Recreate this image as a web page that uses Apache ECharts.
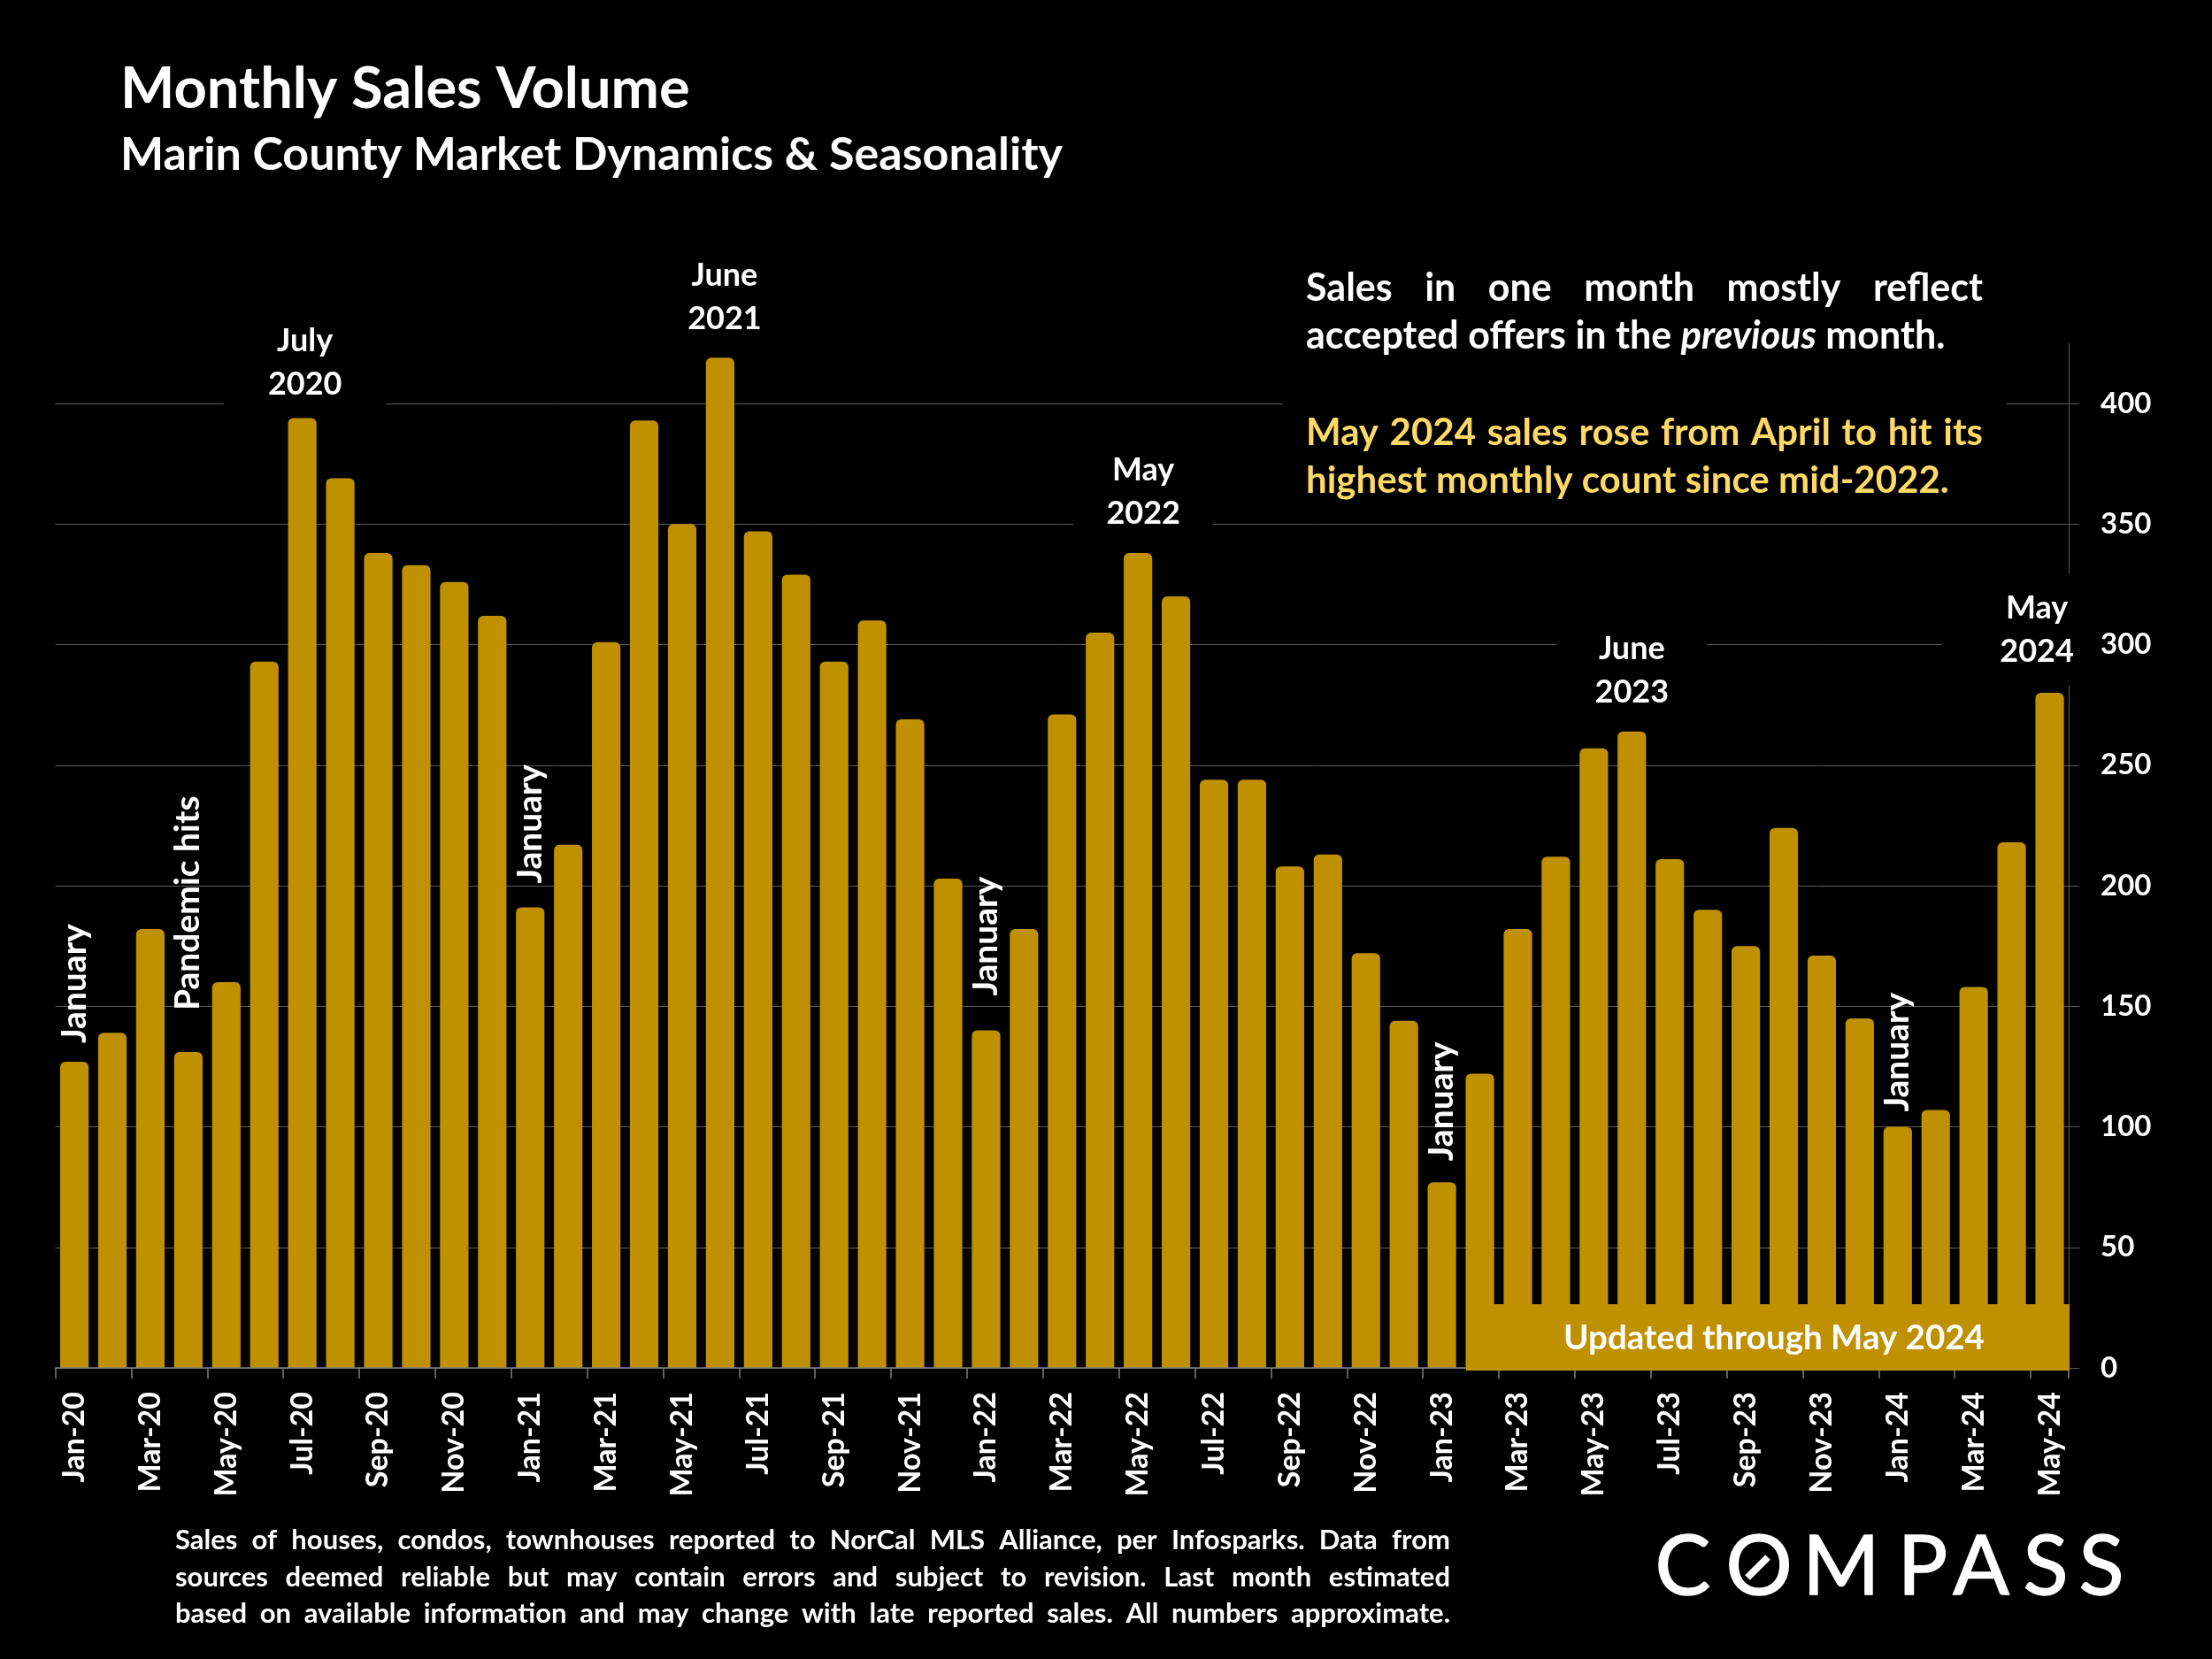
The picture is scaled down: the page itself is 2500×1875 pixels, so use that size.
<!DOCTYPE html>
<html>
<head>
    <meta charset="UTF-8">
    <title>Monthly Sales Volume</title>
    <script src="https://cdn.jsdelivr.net/npm/echarts@6/dist/echarts.min.js"></script>
    <style>
        html, body { margin: 0; background: #000; }
        #chart { width: 2500px; height: 1875px; }
    </style>
</head>
<body>
<div id="chart"></div>
<script>
    var months = ['Jan', 'Feb', 'Mar', 'Apr', 'May', 'Jun', 'Jul', 'Aug', 'Sep', 'Oct', 'Nov', 'Dec'];
    var categories = [];
    ['20', '21', '22', '23', '24'].forEach(function (yy) {
        months.forEach(function (m) { categories.push(m + '-' + yy); });
    });
    categories = categories.slice(0, 53);

    var sales = [
        127, 139, 182, 131, 160, 293, 394, 369, 338, 333, 326, 312,
        191, 217, 301, 393, 350, 419, 347, 329, 293, 310, 269, 203,
        140, 182, 271, 305, 338, 320, 244, 244, 208, 213, 172, 144,
        77, 122, 182, 212, 257, 264, 211, 190, 175, 224, 171, 145,
        100, 107, 158, 218, 280
    ];
    var yTicks = [0, 50, 100, 150, 200, 250, 300, 350, 400];

    // callouts above the bars
    var sideNotes = {'Jan-20': 'January', 'Apr-20': 'Pandemic hits', 'Jan-21': 'January',
        'Jan-22': 'January', 'Jan-23': 'January', 'Jan-24': 'January'};
    var peakNotes = {'Jul-20': 'July\n2020', 'Jun-21': 'June\n2021', 'May-22': 'May\n2022',
        'Jun-23': 'June\n2023', 'May-24': 'May\n2024'};

    var titleText = 'Monthly Sales Volume';
    var subtitleText = 'Marin County Market Dynamics & Seasonality';
    var updatedText = 'Updated through May 2024';
    var footnote = [
        'Sales of houses, condos, townhouses reported to NorCal MLS Alliance, per Infosparks. Data from',
        'sources deemed reliable but may contain errors and subject to revision. Last month estimated',
        'based on available information and may change with late reported sales. All numbers approximate.'
    ];

    var FONT = 'Lato, "Open Sans", sans-serif';
    var GOLD = '#BF9000';
    var measure = document.createElement('canvas').getContext('2d');

    function fontOf(size, italic) {
        return (italic ? 'italic ' : '') + 'bold ' + size + 'px ' + FONT;
    }

    // one text element per word, so a line can be justified like the original
    function lineWords(words, left, width, y, size, color) {
        var els = [];
        var total = 0;
        words.forEach(function (w) {
            measure.font = fontOf(size, w.italic);
            w.width = measure.measureText(w.text).width;
            total += w.width;
        });
        measure.font = fontOf(size);
        var gap = width ? (width - total) / (words.length - 1) : measure.measureText(' ').width;
        var x = left;
        words.forEach(function (w) {
            els.push({
                type: 'text', z: 20,
                style: {text: w.text, x: x, y: y, fill: color, font: fontOf(size, w.italic), textVerticalAlign: 'middle'}
            });
            x += w.width + gap;
        });
        return els;
    }

    function plain(str) {
        return str.split(' ').map(function (t) { return {text: t}; });
    }

    function sideLabel(text, distance) {
        return {
            show: true, formatter: text, position: 'top', rotate: 90, align: 'left', verticalAlign: 'middle',
            distance: distance, color: '#fff', fontFamily: FONT, fontWeight: 'bold', fontSize: 39
        };
    }

    function peakLabel(text, opt) {
        return {
            show: true, formatter: text, position: 'top', distance: opt.distance, offset: opt.offset,
            color: '#fff', fontFamily: FONT, fontWeight: 'bold', fontSize: 36, lineHeight: 49, align: 'center',
            backgroundColor: '#000', padding: opt.padding
        };
    }

    var sideDistance = {'Jan-20': 21, 'Apr-20': 47, 'Jan-21': 27, 'Jan-22': 39, 'Jan-23': 24, 'Jan-24': 17};
    var peakStyle = {
        'Jul-20': {distance: 14, offset: [3, 0], padding: [0, 50, 0, 50]},
        'Jun-21': {distance: 19, offset: [5, 0], padding: [0, 10, 0, 10]},
        'May-22': {distance: 20, offset: [6, 0], padding: [0, 37, 0, 37]},
        'Jun-23': {distance: 20, offset: [0, 0], padding: [0, 43, 0, 43]},
        'May-24': {distance: 9, offset: [-43, 0], padding: [15, 8, 13, 65]}
    };

    var barData = sales.map(function (v, i) {
        var c = categories[i];
        var item = {value: v};
        if (sideNotes[c]) item.label = sideLabel(sideNotes[c], sideDistance[c]);
        if (peakNotes[c]) item.label = peakLabel(peakNotes[c], peakStyle[c]);
        return item;
    });

    var graphics = [
        // black panel behind the commentary hides the 400 gridline
        {type: 'rect', z: 10, shape: {x: 1450, y: 300, width: 817, height: 280}, style: {fill: '#000'}},
        {type: 'rect', z: 10, shape: {x: 1657, y: 1474, width: 682, height: 75}, style: {fill: GOLD}},
        {type: 'text', z: 20, style: {text: updatedText, x: 2005, y: 1513, fill: '#fff', font: fontOf(38.5),
            textAlign: 'center', textVerticalAlign: 'middle'}}
    ];
    graphics = graphics.concat(
        lineWords(plain('Sales in one month mostly reflect'), 1476, 765, 326, 43, '#fff'),
        lineWords([{text: 'accepted'}, {text: 'offers'}, {text: 'in'}, {text: 'the'}, {text: 'previous', italic: true}, {text: 'month.'}], 1476, 0, 380, 43, '#fff'),
        lineWords(plain('May 2024 sales rose from April to hit its'), 1476, 765, 489, 42, '#FFD966'),
        lineWords(plain('highest monthly count since mid-2022.'), 1476, 0, 543, 42, '#FFD966')
    );
    footnote.forEach(function (line, i) {
        graphics = graphics.concat(lineWords(plain(line), 198, 1441, 1741 + i * 41.5, 31, '#fff'));
    });

    // wordmark, letter by letter
    [['C', 1902], ['O', 1988], ['M', 2081], ['P', 2173], ['A', 2239], ['S', 2312], ['S', 2375]].forEach(function (l) {
        graphics.push({type: 'text', z: 20, style: {text: l[0], x: l[1], y: 1772, fill: '#fff',
            stroke: '#fff', lineWidth: 1.5,
            font: '400 94px ' + FONT, textAlign: 'center', textVerticalAlign: 'middle'}});
    });
    graphics.push({type: 'line', z: 20, shape: {x1: 1975, y1: 1783, x2: 1998, y2: 1760},
        style: {stroke: '#fff', lineWidth: 8}});

    var chart = echarts.init(document.getElementById('chart'), null, {renderer: 'canvas'});
    chart.setOption({
        backgroundColor: '#000',
        animation: false,
        title: {
            text: titleText, subtext: subtitleText, left: 131, top: 64, itemGap: 15,
            textStyle: {color: '#fff', fontFamily: FONT, fontWeight: 'bold', fontSize: 65},
            subtextStyle: {color: '#fff', fontFamily: FONT, fontWeight: 'bold', fontSize: 52}
        },
        grid: {left: 62.6, right: 162, top: 388, bottom: 329},
        xAxis: {
            type: 'category', data: categories, z: 3,
            axisLine: {lineStyle: {color: '#7f7f7f', width: 1.5}},
            axisTick: {show: true, interval: 1, length: 12, lineStyle: {color: '#7f7f7f', width: 1.5}},
            axisLabel: {interval: 1, rotate: 90, margin: 27, color: '#fff', fontFamily: FONT, fontWeight: 'bold', fontSize: 34}
        },
        yAxis: {
            type: 'value', position: 'right', min: 0, max: 425,
            axisLine: {show: true, lineStyle: {color: '#595959', width: 1}},
            axisTick: {show: true, length: 12, customValues: yTicks, lineStyle: {color: '#595959', width: 1}},
            splitLine: {show: true, lineStyle: {color: '#595959', width: 1}},
            axisLabel: {margin: 36, align: 'left', customValues: yTicks, color: '#fff', fontFamily: FONT, fontWeight: 'bold', fontSize: 33}
        },
        series: [{
            type: 'bar', data: barData, barWidth: '75%',
            itemStyle: {color: GOLD, borderRadius: [6, 6, 0, 0]}
        }],
        graphic: {elements: graphics}
    });
</script>
</body>
</html>
